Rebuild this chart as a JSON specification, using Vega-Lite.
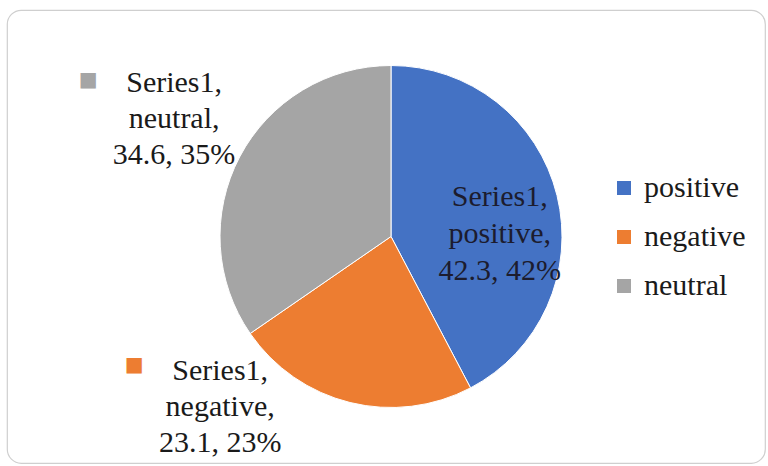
{
  "$schema": "https://vega.github.io/schema/vega-lite/v6.json",
  "width": 758,
  "height": 453,
  "autosize": {"type": "none"},
  "padding": {"left": 7, "top": 10, "right": 3, "bottom": 3},
  "background": "white",
  "view": {"stroke": "#cfcfcf", "strokeWidth": 1.2, "cornerRadius": 14, "fill": "white"},
  "config": {
    "view": {"stroke": "#cfcfcf", "strokeWidth": 1.2, "cornerRadius": 14},
    "text": {"font": "'Liberation Serif', 'Times New Roman', 'DejaVu Serif', serif"}
  },
  "data": {
    "values": [
      {"category": "positive", "value": 42.3},
      {"category": "negative", "value": 23.1},
      {"category": "neutral", "value": 34.6}
    ]
  },
  "transform": [
    {"joinaggregate": [{"op": "sum", "field": "value", "as": "total"}]},
    {"calculate": "indexof(['positive','negative','neutral'], datum.category)", "as": "idx"},
    {"calculate": "'Series1,|' + datum.category + ',|' + datum.value + ', ' + format(datum.value/datum.total, '.0%')", "as": "label"}
  ],
  "encoding": {
    "theta": {"field": "value", "type": "quantitative", "stack": true},
    "order": {"field": "idx", "type": "quantitative"},
    "detail": {"field": "category", "type": "nominal"}
  },
  "layer": [
    {
      "mark": {"type": "arc", "radius": 171, "xOffset": 5, "stroke": "white", "strokeWidth": 1},
      "encoding": {
        "color": {
          "field": "category",
          "type": "nominal",
          "scale": {"domain": ["positive", "negative", "neutral"], "range": ["#4472C4", "#ED7D31", "#A5A5A5"]},
          "legend": {
            "title": null,
            "orient": "none",
            "legendX": 602,
            "legendY": 163,
            "symbolType": "square",
            "symbolSize": 196,
            "symbolStrokeWidth": 0,
            "labelFont": "'Liberation Serif', 'Times New Roman', 'DejaVu Serif', serif",
            "labelFontSize": 30,
            "labelColor": "#1a1a1a",
            "labelOffset": 5,
            "rowPadding": 19
          }
        }
      }
    },
    {
      "mark": {"type": "text", "radius": 245, "xOffset": 5, "dy": -40, "lineBreak": "|", "fontSize": 30, "lineHeight": 36, "color": "#1a1a1a", "baseline": "middle", "align": "center"},
      "encoding": {
        "text": {"condition": {"test": "datum.category === 'neutral'", "field": "label"}, "value": ""}
      }
    },
    {
      "mark": {"type": "text", "radius": 112, "xOffset": 5, "dy": -13, "lineBreak": "|", "fontSize": 30, "lineHeight": 37, "color": "#1c1c2e", "baseline": "middle", "align": "center"},
      "encoding": {
        "text": {"condition": {"test": "datum.category === 'positive'", "field": "label"}, "value": ""}
      }
    },
    {
      "mark": {"type": "text", "radius": 183, "xOffset": 5, "dx": -127, "dy": -43, "lineBreak": "|", "fontSize": 30, "lineHeight": 36, "color": "#1a1a1a", "baseline": "middle", "align": "center"},
      "encoding": {
        "text": {"condition": {"test": "datum.category === 'negative'", "field": "label"}, "value": ""}
      }
    },
    {
      "mark": {"type": "text", "radius": 245, "xOffset": 5, "dx": -86, "dy": -43, "font": "DejaVu Sans", "fontSize": 20, "baseline": "middle", "align": "center"},
      "encoding": {
        "text": {"condition": {"test": "datum.category === 'neutral'", "value": "■"}, "value": ""},
        "color": {"field": "category", "type": "nominal", "legend": null}
      }
    },
    {
      "mark": {"type": "text", "radius": 183, "xOffset": 5, "dx": -213, "dy": -49, "font": "DejaVu Sans", "fontSize": 20, "baseline": "middle", "align": "center"},
      "encoding": {
        "text": {"condition": {"test": "datum.category === 'negative'", "value": "■"}, "value": ""},
        "color": {"field": "category", "type": "nominal", "legend": null}
      }
    }
  ]
}
